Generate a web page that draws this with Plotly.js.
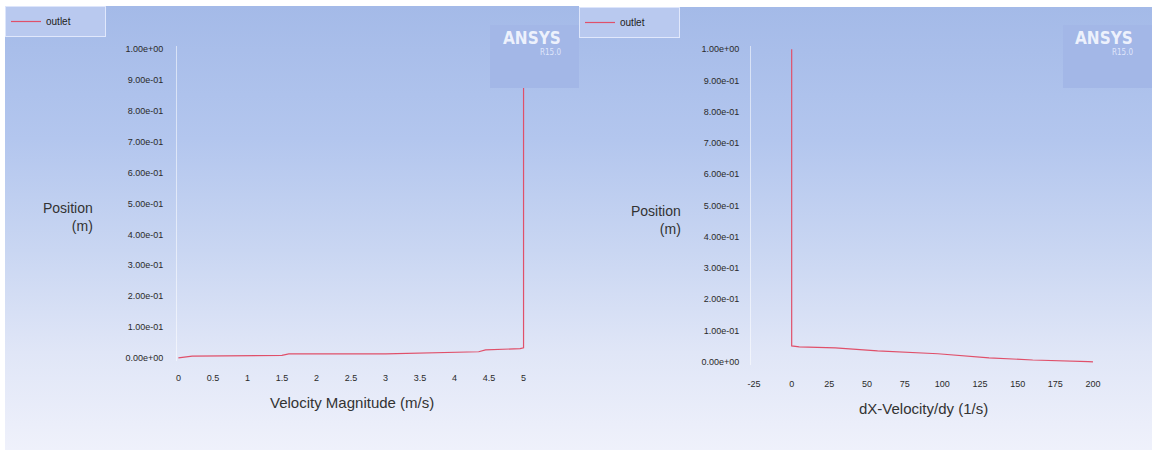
<!DOCTYPE html>
<html>
<head>
<meta charset="utf-8">
<script src="https://cdn.plot.ly/plotly-3.0.1.min.js"></script>
<style>
  html, body { margin: 0; padding: 0; background: #ffffff; }
  #wrap { position: relative; width: 1152px; height: 450px; overflow: hidden; background: #ffffff; }
  .panel { position: absolute;
    background: linear-gradient(to bottom, #a4bae8 0%, #b3c6ee 30%, #c9d6f2 55%, #e0e6f7 78%, #eff1fb 100%); }
  #left { left: 5px; top: 6px; width: 574px; height: 444px; }
  #right { left: 579px; top: 7px; width: 573px; height: 443px; }
</style>
</head>
<body>
<div id="wrap">
  <div id="left" class="panel"></div>
  <div id="right" class="panel"></div>
</div>
<script>
// ---- data ----
const seriesName = 'outlet';

const velocityMagnitude = [0, 0.2, 1.5, 1.6, 3.0, 4.35, 4.45, 4.95, 5.0, 5.0];
const positionLeft      = [0, 0.006, 0.008, 0.013, 0.013, 0.02, 0.026, 0.03, 0.033, 1.0];

const dxVelocityDy  = [0, 0, 5, 29, 57, 97, 131, 160, 197, 200];
const positionRight = [1.0, 0.051, 0.048, 0.045, 0.035, 0.026, 0.013, 0.006, 0.001, 0.0];

const yTickVals = [0, 0.1, 0.2, 0.3, 0.4, 0.5, 0.6, 0.7, 0.8, 0.9, 1.0];
const yTickText = ['0.00e+00','1.00e-01','2.00e-01','3.00e-01','4.00e-01','5.00e-01',
                   '6.00e-01','7.00e-01','8.00e-01','9.00e-01','1.00e+00'];

const leftXTickVals = [0, 0.5, 1, 1.5, 2, 2.5, 3, 3.5, 4, 4.5, 5];
const leftXTickText = ['0','0.5','1','1.5','2','2.5','3','3.5','4','4.5','5'];

const rightXTickVals = [-25, 0, 25, 50, 75, 100, 125, 150, 175, 200];
const rightXTickText = ['-25','0','25','50','75','100','125','150','175','200'];

const yTitleLines = ['Position', '(m)'];
const leftXTitle = 'Velocity Magnitude (m/s)';
const rightXTitle = 'dX-Velocity/dy (1/s)';
const logoText = 'ANSYS';
const logoSub = 'R15.0';

// ---- styling ----
const FONT = 'Liberation Sans, Arial, sans-serif';
const LINE_COLOR = '#e0506a';
const BOX_COLOR = '#a3b7e7';

function makeLayout(o) {
  return {
    width: o.w, height: o.h,
    margin: { l: o.l, r: o.r, t: o.t, b: o.b, pad: 0 },
    paper_bgcolor: 'rgba(0,0,0,0)',
    plot_bgcolor: 'rgba(0,0,0,0)',
    font: { family: FONT, size: 9, color: '#2a2a2a' },
    showlegend: true,
    legend: {
      xref: 'container', yref: 'container', x: 0, y: 1,
      xanchor: 'left', yanchor: 'top',
      orientation: 'h', entrywidth: 54, itemwidth: 30,
      bgcolor: '#b9c9ef', bordercolor: 'rgba(235,240,255,0.8)', borderwidth: 1,
      font: { family: FONT, size: 10, color: '#222' },
      tracegroupgap: 0
    },
    xaxis: {
      range: o.xr, showgrid: false, zeroline: false, showline: false,
      tickmode: 'array', tickvals: o.xtv, ticktext: o.xtt,
      ticks: 'outside', ticklen: o.xtl, tickcolor: 'rgba(0,0,0,0)',
      tickfont: { family: FONT, size: 9, color: '#2a2a2a' }
    },
    yaxis: {
      range: [-0.01, 1.01], showgrid: false, zeroline: false,
      showline: true, linecolor: 'rgba(255,255,255,0.55)', linewidth: 1,
      tickmode: 'array', tickvals: yTickVals, ticktext: yTickText,
      ticks: 'outside', ticklen: o.ytl, tickcolor: 'rgba(0,0,0,0)',
      tickfont: { family: FONT, size: 9, color: '#2a2a2a' }
    },
    shapes: [{
      type: 'rect', layer: 'above', xref: 'paper', yref: 'paper',
      xsizemode: 'pixel', ysizemode: 'pixel', xanchor: 1, yanchor: 1,
      x0: o.bx0, x1: o.bx1, y0: o.by0, y1: o.by1,
      fillcolor: BOX_COLOR, line: { width: 0 }
    }],
    annotations: [
      { xref: 'paper', yref: 'paper', x: 0.5, y: 0, xanchor: 'center', yanchor: 'middle',
        yshift: o.xtShift, showarrow: false, text: o.xTitle,
        font: { family: FONT, size: 15, color: '#333' } },
      { xref: 'paper', yref: 'y', x: 0, y: 0.455, xanchor: 'right', yanchor: 'middle',
        xshift: o.ytShift, showarrow: false, align: 'right', text: yTitleLines.join('<br>'),
        font: { family: FONT, size: 14, color: '#333' } },
      { xref: 'paper', yref: 'paper', x: 1, y: 1, xanchor: 'right', yanchor: 'middle',
        xshift: o.logoShift, yshift: o.logoY, showarrow: false, text: '<b>' + logoText + '</b>',
        font: { family: 'DejaVu Sans Condensed, Liberation Sans Narrow, Arial', size: 17, color: 'rgba(245,248,255,0.92)' } },
      { xref: 'paper', yref: 'paper', x: 1, y: 1, xanchor: 'right', yanchor: 'middle',
        xshift: o.logoShift, yshift: o.logoY - 14, showarrow: false, text: logoSub,
        font: { family: 'DejaVu Sans Condensed, Liberation Sans Narrow, Arial', size: 8, color: 'rgba(235,240,255,0.85)' } }
    ]
  };
}

const cfg = { staticPlot: true, displayModeBar: false };

Plotly.newPlot('left', [{
  type: 'scatter', mode: 'lines', name: seriesName,
  x: velocityMagnitude, y: positionLeft,
  line: { color: LINE_COLOR, width: 1.2 }
}], makeLayout({
  w: 574, h: 444, l: 172, r: 52, t: 40, b: 89,
  xr: [-0.02, 5.05], xtv: leftXTickVals, xtt: leftXTickText, xtl: 8, ytl: 11,
  bx0: -37, bx1: 53, by0: -42, by1: 21,
  xTitle: leftXTitle, xtShift: -41, ytShift: -82, logoShift: 36, logoY: 8
}), cfg);

Plotly.newPlot('right', [{
  type: 'scatter', mode: 'lines', name: seriesName,
  x: dxVelocityDy, y: positionRight,
  line: { color: LINE_COLOR, width: 1.2 }
}], makeLayout({
  w: 573, h: 443, l: 172, r: 56, t: 39, b: 85,
  xr: [-27, 202], xtv: rightXTickVals, xtt: rightXTickText, xtl: 10, ytl: 9,
  bx0: -33, bx1: 57, by0: -42, by1: 21,
  xTitle: rightXTitle, xtShift: -43, ytShift: -68, logoShift: 39, logoY: 8
}), cfg);
</script>
</body>
</html>
